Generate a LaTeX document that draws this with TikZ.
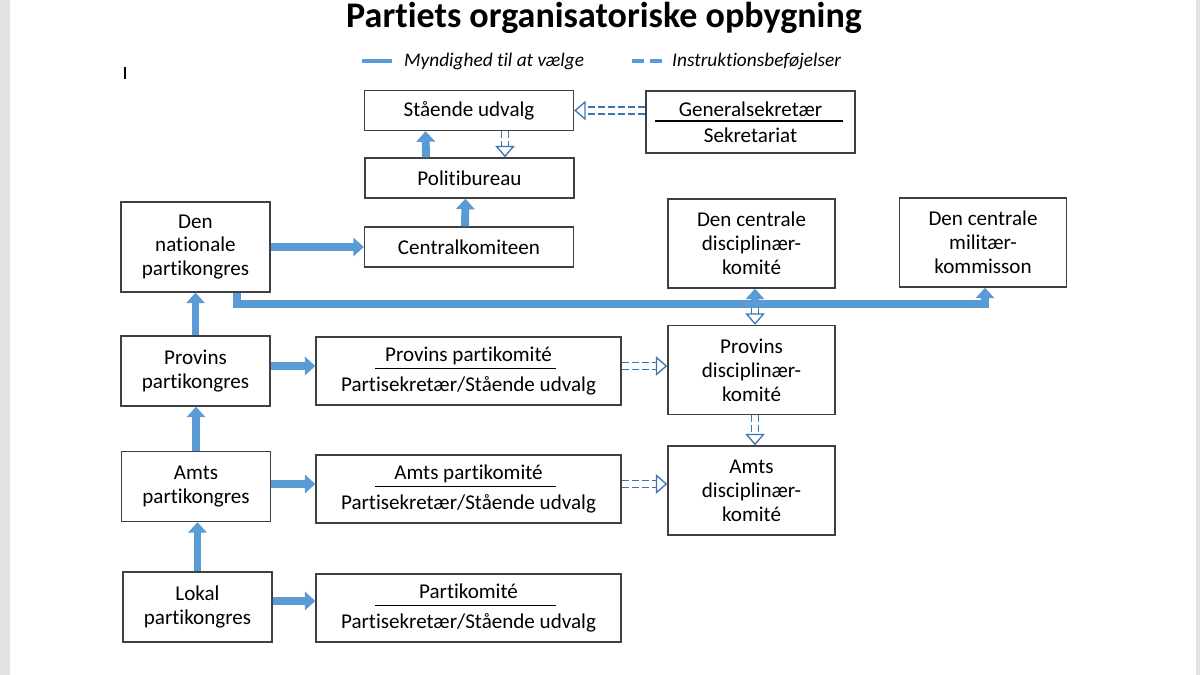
\documentclass[tikz,border=0pt]{standalone}
\usepackage{fontspec}
\setmainfont{Carlito}[Ligatures={NoCommon, NoContextual}, Contextuals={NoAlternate}]
\usetikzlibrary{arrows.meta, positioning, calc}
\definecolor{electblue}{HTML}{5B9BD5}
\definecolor{instrblue}{HTML}{3A76B2}
\definecolor{boxgray}{HTML}{404040}
\definecolor{pagegray}{HTML}{E3E3E3}
\tikzset{
    orgbox/.style={rectangle, draw=boxgray, line width=0.8pt, fill=white, align=center, inner sep=2pt, font=\fontsize{12}{13.6}\selectfont},
    topbox/.style={orgbox, minimum width=4.18cm, minimum height=0.8cm},
    kongbox/.style={orgbox, minimum width=2.98cm, minimum height=1.4cm},
    discbox/.style={orgbox, minimum width=3.34cm, minimum height=1.78cm},
    splitbox/.style={orgbox, minimum width=6.1cm, minimum height=1.36cm},
    splitrule/.style={draw=black, line width=0.9pt},
    elect/.style={-{Triangle[length=6pt, width=10.5pt]}, line width=4.5pt, draw=electblue},
    instr/.style={-{Triangle[open, length=6.5pt, width=11pt]}, draw=instrblue, line width=0.75pt, double=white, double distance=3.4pt, dash pattern=on 4pt off 1.7pt}
}

\begin{document}
\begin{tikzpicture}[x=0.02cm, y=-0.02cm]
        \useasboundingbox (0,0) rectangle (1200,675);
        \fill[pagegray] (0,0) rectangle (10,675);
        \fill[pagegray] (1196,0) rectangle (1200,675);
        \draw[line width=1pt] (125,67) -- (125,79);
        % title and legend
        \node[font=\fontsize{20.5}{24}\selectfont\bfseries] (title) at (604,18) {Partiets organisatoriske opbygning};
        \coordinate (legA) at (362,61);
        \coordinate (legB) at (632,61);
        \draw[draw=electblue, line width=2.5pt] (legA) -- ++(30,0);
        \draw[draw=electblue, line width=2.5pt, dash pattern=on 7pt off 3pt] (legB) -- ++(30,0);
        \node[anchor=west, font=\fontsize{11}{13}\selectfont\itshape] (legAtext) at (398,61) {Myndighed til at vælge};
        \node[anchor=west, font=\fontsize{11}{13}\selectfont\itshape] (legBtext) at (666,61) {Instruktionsbeføjelser};
        % central organs
        \node[topbox] (stand) at (469,110.5) {Stående udvalg};
        \node[orgbox, minimum width=4.18cm, minimum height=1.24cm] (gensek) at (750.5,122) {Generalsekretær\\[1pt]Sekretariat};
        \node[topbox] (polit) at (469.5,178) {Politibureau};
        \node[topbox] (central) at (469,247) {Centralkomiteen};
        \node[orgbox, minimum width=2.98cm, minimum height=1.8cm] (natkong) at (195.5,247) {Den\\nationale\\partikongres};
        \node[discbox] (cdisc) at (751.5,243.5) {Den centrale\\disciplinær-\\komité};
        \node[discbox] (cmil) at (983,242.5) {Den centrale\\militær-\\kommisson};
        % provins, amt, lokal
        \node[kongbox] (provkong) at (195.5,371) {Provins\\partikongres};
        \node[splitbox] (provkom) at (468.5,371) {Provins partikomité\\[3pt]Partisekretær/Stående udvalg};
        \node[discbox] (provdisc) at (751.5,370) {Provins\\disciplinær-\\komité};
        \node[kongbox] (amtkong) at (196,486.5) {Amts\\partikongres};
        \node[splitbox] (amtkom) at (468.5,489) {Amts partikomité\\[3pt]Partisekretær/Stående udvalg};
        \node[discbox] (amtdisc) at (751.5,490.5) {Amts\\disciplinær-\\komité};
        \node[kongbox] (lokkong) at (197.5,607) {Lokal\\partikongres};
        \node[splitbox] (lokkom) at (468.5,608) {Partikomité\\[3pt]Partisekretær/Stående udvalg};
        \draw[splitrule] ([xshift=-1.91cm, yshift=0.02cm]gensek.center) -- ([xshift=1.85cm, yshift=0.02cm]gensek.center);
        \foreach \k in {provkom, amtkom, lokkom}
            \draw[splitrule] ([xshift=-1.87cm, yshift=0.05cm]\k.center) -- ([xshift=1.75cm, yshift=0.05cm]\k.center);
        % instruktion
        \coordinate (busend) at (985,304);
        \coordinate (busdisc) at (755,304);
        \draw[instr] (gensek.west |- stand.east) -- (stand.east);
        \draw[instr] ([xshift=0.72cm]stand.south) -- ([xshift=0.72cm]stand.south |- polit.north);
        \draw[instr] ([yshift=-0.06cm]busdisc) -- (busdisc |- provdisc.north);
        \draw[instr] ([yshift=0.1cm]provkom.east) -- ([yshift=0.1cm]provkom.east -| provdisc.west);
        \draw[instr] (busdisc |- provdisc.south) -- (busdisc |- amtdisc.north);
        \draw[instr] ([yshift=0.1cm]amtkom.east) -- ([yshift=0.1cm]amtkom.east -| amtdisc.west);
        % valg
        \draw[elect] ([xshift=-0.87cm]polit.north) -- ([xshift=-0.87cm]stand.south);
        \draw[elect] ([xshift=-0.08cm]central.north) -- ([xshift=-0.08cm]polit.south);
        \draw[elect] (natkong.east) -- (central.west);
        \draw[elect, line join=miter] ([xshift=0.83cm]natkong.south) |- (busend) -- (busend |- cmil.south);
        \draw[elect] (busdisc) -- (busdisc |- cdisc.south);
        \draw[elect] (provkong.north) -- (natkong.south);
        \draw[elect] (amtkong.north) -- (amtkong.north |- provkong.south);
        \draw[elect] (lokkong.north) -- (lokkong.north |- amtkong.south);
        \draw[elect] ([yshift=0.1cm]provkong.east) -- ([yshift=0.1cm]provkong.east -| provkom.west);
        \draw[elect] ([yshift=0.05cm]amtkong.east) -- ([yshift=0.05cm]amtkong.east -| amtkom.west);
        \draw[elect] ([yshift=0.12cm]lokkong.east) -- ([yshift=0.12cm]lokkong.east -| lokkom.west);
    \end{tikzpicture}
\end{document}
